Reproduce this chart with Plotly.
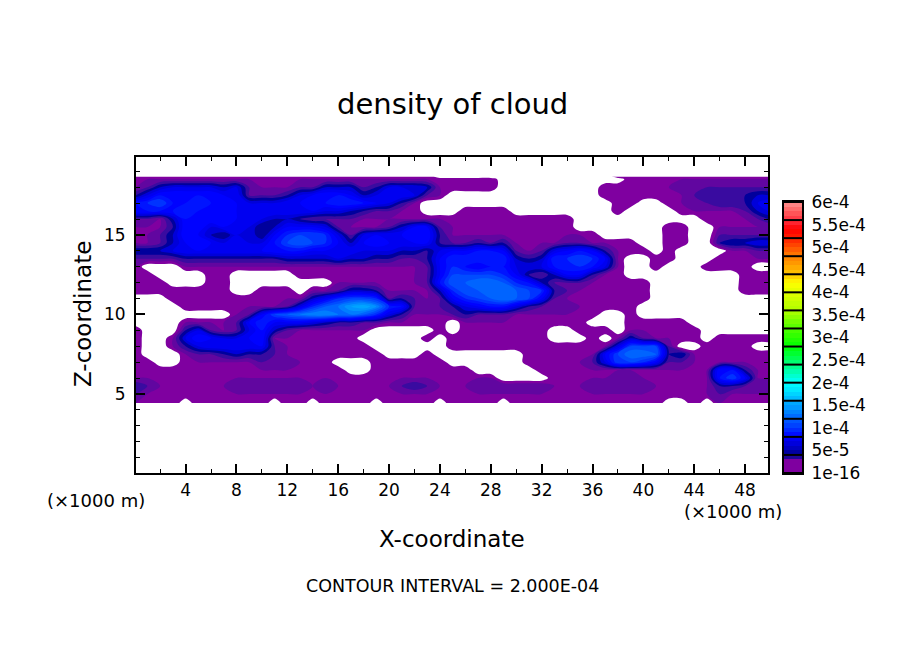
import plotly.graph_objects as go

W, H = 904, 654

# cloud density, in units of 1e-5 (0 = no cloud), top row first
x_km = [0.1] + list(range(1, 50)) + [49.8]
z_km = [18.67, 18.5, 18, 17.5, 17, 16.5, 16, 15.5, 15, 14.5, 14, 13.5, 13, 12.5, 12, 11.5, 11, 10.5,
        10, 9.5, 9, 8.5, 8, 7.5, 7, 6.5, 6, 5.5, 5, 4.43]
density = [
    [2,2,2,2,2,2,2,2,2,2, 2,2,2,2,2,2,2,2,2,2, 2,2,2,2,0,0,0,0,0,0, 0,0,0,0,0,0,0,0,2,2, 2,2,2,2,2,2,2,2,2,2, 2],
    [2,2,2,2,2,2,2,2,2,2, 2,2,2,2,2,2,2,2,2,2, 2,2,2,2,2,2,2,2,2,0, 0,0,0,0,0,0,0,0,0,2, 2,2,2,2,2,2,2,2,2,2, 2],
    [2,3,5,6,6,6,6,5,6,3, 2,2,2,3,3,5,5,5,3,4, 6,6,6,5,2,2,2,2,2,0, 0,0,0,0,0,0,0,2,2,2, 2,2,2,3,3,3,3,3,3,3, 3],
    [4,6,8,8,8,8,8,7,7,3, 3,3,4,6,7,8,8,7,5,6, 7,7,6,3,2,0,0,0,0,0, 0,0,0,0,0,0,0,2,2,2, 2,2,2,2,3,4,4,4,4,5, 5],
    [8,9,10,8,8,9,8,8,7,6, 6,6,7,7,8,8,9,9,8,7, 6,4,2,0,0,0,0,0,0,0, 0,0,0,0,0,0,0,0,2,2, 0,0,2,2,3,3,4,4,4,6, 7],
    [8,8,8,8,9,8,8,8,7,7, 7,7,7,7,7,6,6,5,4,3, 3,2,2,0,0,0,2,2,2,2, 0,0,0,0,0,0,0,0,2,0, 0,0,0,2,2,2,2,2,3,5, 6],
    [3,3,2,5,8,8,8,8,7,7, 6,5,5,4,3,3,3,3,2,2, 2,2,2,2,2,2,2,2,2,2, 2,2,2,2,2,0,0,0,0,0, 0,0,0,0,0,2,2,2,2,3, 4],
    [2,2,2,4,8,8,6,7,7,6, 4,5,7,7,7,6,3,2,2,2, 3,5,7,7,3,2,2,2,2,2, 2,2,2,2,2,0,0,0,0,0, 0,0,2,2,0,0,2,2,2,2, 2],
    [2,2,3,5,8,7,5,4,6,6, 4,7,9,10,10,9,6,3,6,7, 7,7,8,8,4,2,2,2,2,2, 2,2,2,2,2,2,2,0,0,0, 0,0,2,2,0,0,3,3,3,3, 3],
    [2,2,3,5,7,8,7,6,7,6, 6,8,10,11,10,9,7,5,7,8, 7,7,7,7,4,3,3,4,3,4, 2,2,2,2,3,3,2,2,2,2, 0,0,2,2,0,0,4,5,5,6, 6],
    [5,5,5,6,7,7,7,7,7,7, 7,8,8,8,7,7,7,7,6,6, 6,5,5,4,6,7,7,8,8,7, 3,2,3,6,7,8,7,4,2,2, 2,0,2,0,0,0,0,2,2,3, 3],
    [3,3,3,3,4,4,4,4,4,4, 4,4,5,5,5,5,6,5,5,4, 4,3,3,4,7,9,9,9,9,9, 5,4,5,9,9,10,9,7,2,0, 0,2,2,0,0,0,2,2,2,2, 2],
    [2,0,0,0,2,2,2,2,2,2, 2,2,2,2,2,2,2,2,2,2, 2,2,2,3,7,9,8,7,8,8, 6,6,6,8,9,9,8,6,2,0, 0,2,0,0,0,2,2,2,2,0, 0],
    [2,2,0,0,0,0,2,2,0,0, 0,0,0,2,2,2,2,2,2,2, 2,2,2,3,7,10,10,10,10,9, 7,4,3,5,7,7,4,2,2,0, 0,0,0,0,0,0,0,0,2,2, 2],
    [2,2,2,0,0,0,2,2,0,0, 0,0,0,0,0,0,2,2,2,2, 2,2,2,3,8,11,11,12,12,11, 9,8,5,3,3,3,2,2,2,2, 2,0,0,0,0,0,0,0,2,2, 2],
    [2,2,2,2,2,2,2,2,0,0, 2,2,2,0,2,2,3,5,5,4, 2,2,2,2,5,9,11,11,12,12, 11,10,9,4,3,2,2,2,2,2, 2,0,0,0,0,0,0,0,2,2, 2],
    [0,0,0,2,2,2,2,2,2,2, 2,2,2,2,5,7,9,10,10,9, 3,4,3,2,3,7,9,10,11,12, 11,10,7,3,2,2,2,2,2,2, 2,0,0,0,0,0,0,0,0,0, 0],
    [0,0,0,0,2,2,2,2,2,2, 2,2,3,6,9,11,12,14,15,13, 9,8,3,3,3,4,6,7,8,8, 6,4,3,3,3,2,2,2,2,2, 0,0,0,0,0,0,0,0,0,0, 0],
    [0,0,0,0,0,0,0,0,2,3, 7,10,11,12,13,13,12,12,11,9, 6,4,2,2,2,3,4,3,3,3, 2,2,2,2,2,2,2,0,0,2, 0,0,0,0,0,0,0,0,0,0, 0],
    [0,0,0,0,2,2,2,2,3,7, 9,7,7,7,6,5,4,4,3,3, 2,2,2,2,2,0,2,2,2,2, 2,2,2,2,2,2,0,0,0,2, 2,2,2,2,0,0,0,0,0,0, 0],
    [2,0,0,0,4,6,3,2,3,6, 8,5,3,2,2,2,2,2,2,0, 0,0,0,0,2,0,2,2,2,2, 2,2,2,0,0,2,2,2,0,2, 2,2,2,2,2,0,0,0,0,0, 0],
    [2,0,0,2,6,8,7,6,6,7, 8,2,2,2,2,2,2,2,0,0, 0,0,0,2,0,2,2,2,2,2, 2,2,2,0,0,0,2,0,2,5, 3,2,2,2,2,0,2,2,2,2, 2],
    [2,0,0,2,4,6,7,7,7,7, 7,3,2,2,2,2,2,2,2,0, 0,0,0,0,0,2,2,2,2,2, 2,2,2,2,2,2,2,2,6,10, 10,10,3,0,0,2,2,2,2,0, 0],
    [2,0,0,0,2,3,3,4,5,4, 4,3,2,2,2,2,2,2,2,2, 0,0,0,2,0,0,0,0,0,0, 0,2,2,2,2,2,2,7,10,12, 12,11,4,5,2,2,2,2,2,2, 2],
    [2,2,0,0,2,2,2,2,2,2, 3,3,3,2,2,2,0,0,0,2, 2,2,2,2,2,0,0,0,0,0, 0,2,2,2,2,2,3,6,10,10, 9,7,3,3,2,2,2,2,2,2, 2],
    [2,2,2,2,2,2,2,2,2,2, 2,2,2,2,2,2,2,0,0,2, 2,2,2,2,2,2,2,0,0,0, 0,0,2,2,2,2,2,2,2,2, 2,2,2,2,2,2,8,8,4,2, 2],
    [2,2,2,2,2,2,2,2,2,2, 2,2,2,2,2,2,2,2,2,2, 2,2,2,2,2,2,2,2,2,0, 0,0,0,2,2,2,2,2,3,3, 2,2,2,2,2,2,8,10,7,2, 2],
    [4,3,2,2,2,2,2,2,3,3, 3,3,3,3,2,3,2,2,2,2, 2,3,4,3,2,2,2,3,3,3, 3,3,3,2,2,2,3,3,3,3, 3,2,2,2,2,2,4,4,3,3, 3],
    [3,2,2,2,2,2,2,2,2,2, 2,2,2,2,2,2,2,2,2,2, 2,2,2,2,2,2,2,2,2,2, 2,2,2,2,2,2,2,2,2,2, 2,2,2,2,2,2,3,2,2,2, 2],
    [2,2,2,2,0,2,2,2,2,2, 2,0,2,2,0,2,2,2,2,0, 2,2,2,2,0,2,2,2,2,0, 2,2,2,2,2,2,2,2,2,2, 2,2,0,0,2,0,2,2,2,2, 2],
]

x_ticks = list(range(4, 49, 4))
z_ticks = [5, 10, 15]

bar_ticks = [0, 5, 10, 15, 20, 25, 30, 35, 40, 45, 50, 55, 60]
bar_labels = ["1e-16", "5e-5", "1e-4", "1.5e-4", "2e-4", "2.5e-4", "3e-4", "3.5e-4", "4e-4",
              "4.5e-4", "5e-4", "5.5e-4", "6e-4"]
bar_edges = list(range(0, 61, 4))
bar_shades = [v + 0.5 for v in range(60)]

stop_values = [0, 2.9, 3, 4, 6, 8, 10, 12, 14, 16, 18, 20, 22, 24, 28, 32, 36, 40, 42, 44, 46, 48, 50, 52, 54, 56, 58, 60]
stop_colors = ["#7f00a0", "#7f00a0", "#3c0ca0", "#000090", "#0000d0", "#0000ff", "#0038ff", "#0060ff",
               "#0090ff", "#00b0ff", "#00e0ff", "#00ffff", "#00ffc0", "#00ff80", "#00ff00", "#50ff00",
               "#b0ff00", "#e0ff00", "#ffff00", "#ffc800", "#ffa000", "#ff8000", "#ff5000", "#ff2000",
               "#ff0000", "#ff3040", "#ff6060", "#ff9090"]
bar_scale = [[v / 60, c] for v, c in zip(stop_values, stop_colors)]

# colours of the filled field per plateau value; contour bands pick their colour 1.5 under it
plateau_values = [2, 3, 4, 5, 6, 7, 8, 9, 10, 11, 12, 13, 14, 15, 16]
plateau_colors = ["#7f00a0", "#6206a0", "#3c0ca0", "#000098", "#0000d8", "#0000f0", "#0000ff", "#0010ff",
                  "#0030ff", "#0048ff", "#0060ff", "#0078ff", "#0090ff", "#00a0ff", "#00b0ff"]
# below the first contour level stays white
cloud_scale = [[0, "white"], [0.4 / 60, "white"], [0.41 / 60, plateau_colors[0]]]
cloud_scale += [[(v - 1.5) / 60, c] for v, c in zip(plateau_values, plateau_colors)] + [[1, plateau_colors[-1]]]
cloud_scale.sort(key=lambda s: s[0])

font = "DejaVu Sans"

fig = go.Figure()

fig.add_trace(go.Contour(
    x=x_km, y=z_km, z=density, zmin=0, zmax=60, colorscale=cloud_scale, showscale=False,
    contours=dict(start=1, end=60, size=1, coloring="fill", showlines=False),
    line_width=0, hoverinfo="skip",
))

fig.add_trace(go.Heatmap(
    x=[0.5], y=bar_shades, z=[[v] for v in bar_shades], zmin=0, zmax=60, colorscale=bar_scale,
    showscale=False, xaxis="x2", yaxis="y2", hoverinfo="skip",
))

# black separators between the colour boxes
sep_x, sep_y = [], []
for e in bar_edges:
    sep_x += [0, 1, None]
    sep_y += [e, e, None]
fig.add_trace(go.Scatter(x=sep_x, y=sep_y, mode="lines", line=dict(color="black", width=2),
                         xaxis="x2", yaxis="y2", hoverinfo="skip", showlegend=False))

notes = [
    dict(text="density of cloud", x=452, y=104, size=29, angle=0),
    dict(text="X-coordinate", x=452, y=539, size=23, angle=0),
    dict(text="Z-coordinate", x=83, y=314, size=23, angle=-90),
    dict(text="(\u00d71000 m)", x=96, y=500, size=18, angle=0),
    dict(text="(\u00d71000 m)", x=733, y=511, size=18, angle=0),
    dict(text="CONTOUR INTERVAL = 2.000E-04", x=452, y=586, size=17.5, angle=0),
]
for n in notes:
    fig.add_annotation(text=n["text"], x=n["x"] / W, y=1 - n["y"] / H, xref="paper", yref="paper",
                       xanchor="center", yanchor="middle", showarrow=False, textangle=n["angle"],
                       font=dict(family=font, size=n["size"], color="black"))

fig.update_layout(
    width=W, height=H, margin=dict(l=0, r=0, t=0, b=0), paper_bgcolor="white", plot_bgcolor="white",
    showlegend=False, font=dict(family=font, color="black"),
    xaxis=dict(domain=[136 / W, 768 / W], range=[0.1, 49.8], tickvals=x_ticks, ticks="inside", ticklen=9,
               tickwidth=2, tickcolor="black", showline=True, linecolor="black", linewidth=2, mirror="allticks",
               showgrid=False, zeroline=False, tickfont=dict(size=17), ticklabelstandoff=1, automargin=False,
               minor=dict(dtick=2, ticks="inside", ticklen=4, tickwidth=1, tickcolor="black", showgrid=False)),
    yaxis=dict(domain=[(H - 473) / H, (H - 157) / H], range=[0.03, 19.9], tickvals=z_ticks, ticks="inside", ticklen=9,
               tickwidth=2, tickcolor="black", showline=True, linecolor="black", linewidth=2, mirror="allticks",
               showgrid=False, zeroline=False, tickfont=dict(size=17), ticklabelstandoff=5, automargin=False,
               minor=dict(dtick=1, ticks="inside", ticklen=4, tickwidth=1, tickcolor="black", showgrid=False)),
    xaxis2=dict(domain=[784 / W, 802 / W], range=[0, 1], anchor="y2", showticklabels=False, ticks="", automargin=False,
                showgrid=False, zeroline=False, showline=True, linecolor="black", linewidth=2, mirror=True),
    yaxis2=dict(domain=[(H - 473) / H, (H - 202) / H], range=[0, 60], anchor="x2", side="right", automargin=False,
                tickvals=bar_ticks, ticktext=bar_labels, ticks="", showgrid=False, zeroline=False,
                showline=True, linecolor="black", linewidth=2, mirror=True, tickfont=dict(size=17),
                ticklabelstandoff=4),
)

fig.write_html("out.html", config={"displayModeBar": False, "responsive": False},
               default_width=f"{W}px", default_height=f"{H}px",
               post_script="document.body.style.margin='0';document.body.style.overflow='hidden';")
